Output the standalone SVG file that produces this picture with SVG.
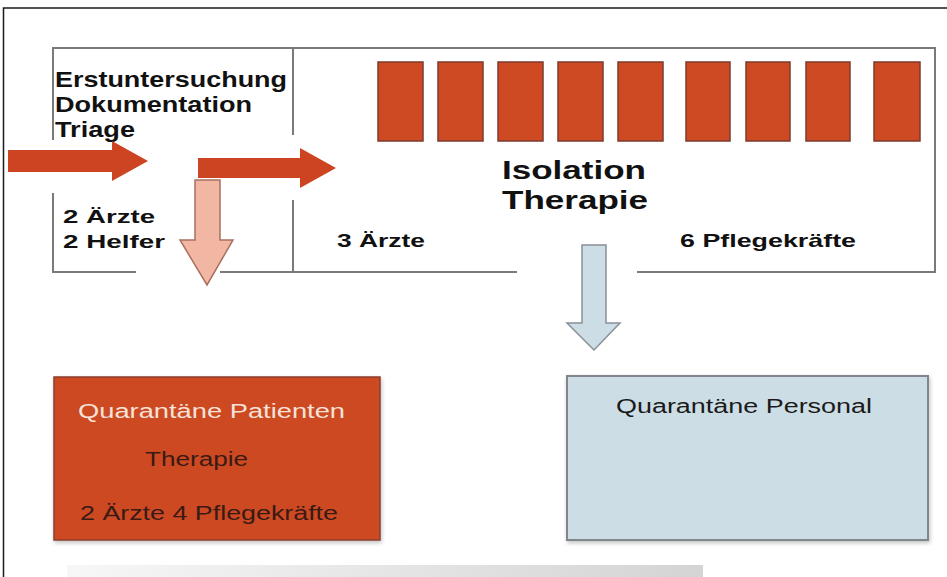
<svg xmlns="http://www.w3.org/2000/svg" width="947" height="577" viewBox="0 0 947 577">
<defs>
<linearGradient id="barGrad" x1="0" y1="0" x2="1" y2="0">
<stop offset="0" stop-color="#f7f7f7"/>
<stop offset="1" stop-color="#d4d4d4"/>
</linearGradient>
<filter id="shadow" x="-5%" y="-5%" width="115%" height="115%">
<feGaussianBlur in="SourceAlpha" stdDeviation="2"/>
<feOffset dx="1" dy="2" result="b"/>
<feComponentTransfer><feFuncA type="linear" slope="0.25"/></feComponentTransfer>
<feMerge><feMergeNode/><feMergeNode in="SourceGraphic"/></feMerge>
</filter>
</defs>
<style>
.frame{fill:none;stroke:#1a1a1a;stroke-width:1.5}
.wall{fill:none;stroke:#7a7a7a;stroke-width:2}
.room{fill:#cd4a22;stroke:#7c3a2c;stroke-width:1.5}
.bold{font-family:"Liberation Sans",Arial,sans-serif;font-weight:bold;fill:#111}
.reg{font-family:"Liberation Sans",Arial,sans-serif}
.redArrow{fill:#cc4422}
</style>
<rect width="947" height="577" fill="#ffffff"/>
<!-- outer frame -->
<path class="frame" d="M3.5,577 V8 H947"/>

<!-- main building outline -->
<g id="building">
<path class="wall" d="M53,140 V48 H935 V272 H637"/>
<path class="wall" d="M517,272 H220"/>
<path class="wall" d="M136,272 H53 V193"/>
<path class="wall" d="M293,48 V135"/>
<path class="wall" d="M293,200 V272"/>
</g>

<g id="rooms">
<rect class="room" x="378" y="62" width="45" height="79"/>
<rect class="room" x="438" y="62" width="45" height="79"/>
<rect class="room" x="498" y="62" width="45" height="79"/>
<rect class="room" x="558" y="62" width="45" height="79"/>
<rect class="room" x="618" y="62" width="45" height="79"/>
<rect class="room" x="686" y="62" width="44" height="79"/>
<rect class="room" x="746" y="62" width="44" height="79"/>
<rect class="room" x="806" y="62" width="44" height="79"/>
<rect class="room" x="874" y="62" width="46" height="79"/>
</g>

<g id="triage">
<text class="bold" font-size="21.5" x="55" y="87" textLength="232" lengthAdjust="spacingAndGlyphs">Erstuntersuchung</text>
<text class="bold" font-size="21.5" x="55" y="112" textLength="197" lengthAdjust="spacingAndGlyphs">Dokumentation</text>
<text class="bold" font-size="21.5" x="55" y="137" textLength="80" lengthAdjust="spacingAndGlyphs">Triage</text>
<text class="bold" font-size="19" x="63" y="223" textLength="92" lengthAdjust="spacingAndGlyphs">2 Ärzte</text>
<text class="bold" font-size="19" x="63" y="248" textLength="102" lengthAdjust="spacingAndGlyphs">2 Helfer</text>
</g>

<g id="isolation">
<text class="bold" font-size="25.5" x="502" y="179" textLength="144" lengthAdjust="spacingAndGlyphs">Isolation</text>
<text class="bold" font-size="25.5" x="502" y="209" textLength="146" lengthAdjust="spacingAndGlyphs">Therapie</text>
<text class="bold" font-size="19" x="337" y="247" textLength="88" lengthAdjust="spacingAndGlyphs">3 Ärzte</text>
<text class="bold" font-size="19" x="680" y="247" textLength="176" lengthAdjust="spacingAndGlyphs">6 Pflegekräfte</text>
</g>

<g id="quarantaene-patienten">
<rect x="54" y="377" width="326" height="163" fill="#cd4a22" stroke="#8a3e2c" stroke-width="1.5" filter="url(#shadow)"/>
<text class="reg" font-size="20" x="78" y="418" fill="#f6e2d8" textLength="267" lengthAdjust="spacingAndGlyphs">Quarantäne Patienten</text>
<text class="reg" font-size="20" x="145" y="466" fill="#3a1a12" textLength="103" lengthAdjust="spacingAndGlyphs">Therapie</text>
<text class="reg" font-size="20" x="80" y="520" fill="#3a1a14" textLength="258" lengthAdjust="spacingAndGlyphs">2 Ärzte 4 Pflegekräfte</text>
</g>

<g id="quarantaene-personal">
<rect x="567" y="376" width="361" height="164" fill="#cddde5" stroke="#80868c" stroke-width="2" filter="url(#shadow)"/>
<text class="reg" font-size="20" x="616" y="413" fill="#1a1a1a" textLength="256" lengthAdjust="spacingAndGlyphs">Quarantäne Personal</text>
</g>

<g id="connectors">
<polygon class="redArrow" points="8,150 112,150 112,141 148,161 112,181 112,172 8,172"/>
<polygon points="195,180 220,180 220,240 233,240 207,285 180,240 195,240" fill="#f2b7a2" stroke="#a8705e" stroke-width="1.5"/>
<polygon class="redArrow" points="198,158 300,158 300,148 336,168 300,188 300,178 198,178"/>
<polygon points="582,245 606,245 606,323 620,323 594,350 567,323 582,323" fill="#cddde5" stroke="#8a9096" stroke-width="1.5"/>
</g>

<rect x="67" y="565" width="636" height="12" fill="url(#barGrad)"/>
</svg>
